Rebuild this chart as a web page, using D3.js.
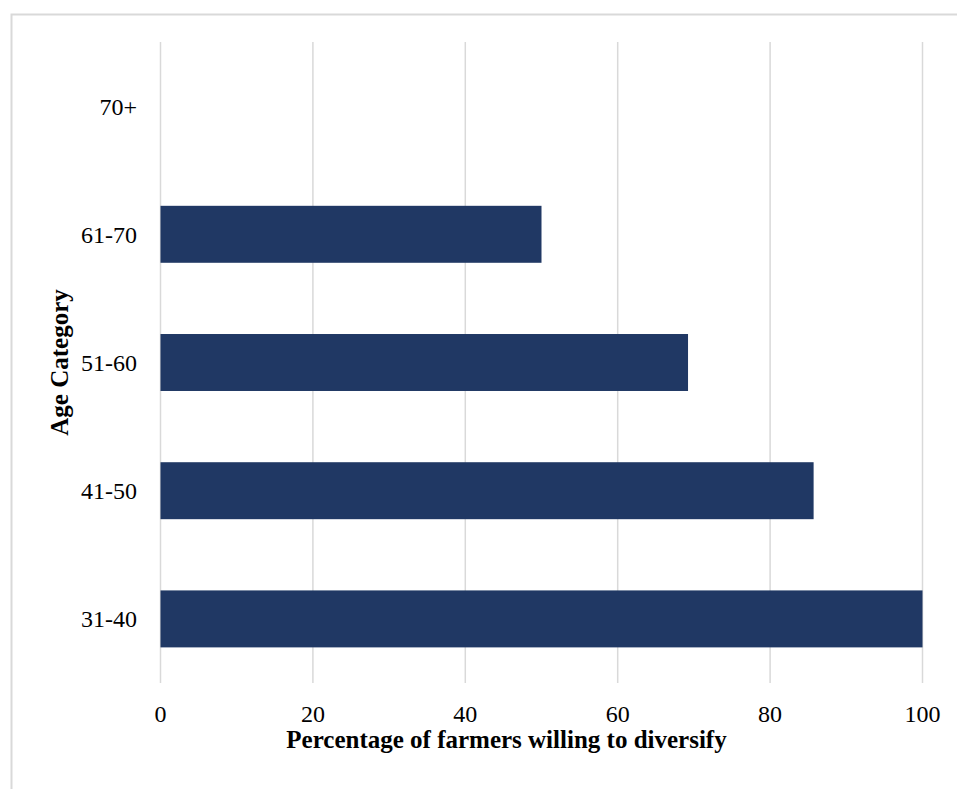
<!DOCTYPE html>
<html>
<head>
<meta charset="utf-8">
<script src="https://cdn.jsdelivr.net/npm/d3@7"></script>
<style>
  html, body { margin: 0; padding: 0; background: #ffffff; }
  svg { display: block; }
</style>
</head>
<body>
<svg id="chart" width="957" height="789"></svg>
<script>
const categories = ["31-40", "41-50", "51-60", "61-70", "70+"];
const values = [100, 85.71, 69.23, 50, 0];
const xTicks = [0, 20, 40, 60, 80, 100];
const xTitle = "Percentage of farmers willing to diversify";
const yTitle = "Age Category";

const svg = d3.select("#chart");
const font = "'Liberation Serif', 'Times New Roman', serif";

// outer frame
svg.append("rect")
  .attr("x", 11.5).attr("y", 14.5)
  .attr("width", 1000).attr("height", 1000)
  .attr("fill", "none").attr("stroke", "#d9d9d9").attr("stroke-width", 2);

const plot = { left: 160.5, right: 922.5, top: 42, bottom: 683 };

const x = d3.scaleLinear().domain([0, 100]).range([plot.left, plot.right]);
const y = d3.scaleBand().domain(categories.slice().reverse())
  .range([plot.top, plot.bottom]).paddingInner(0.5556).paddingOuter(0.2778);

// gridlines
svg.append("g").selectAll("line").data(xTicks).join("line")
  .attr("x1", d => x(d)).attr("x2", d => x(d))
  .attr("y1", plot.top).attr("y2", plot.bottom)
  .attr("stroke", "#d9d9d9").attr("stroke-width", 1.5);

// bars
svg.append("g").selectAll("rect").data(categories.map((c, i) => ({c, v: values[i]}))).join("rect")
  .attr("x", x(0))
  .attr("y", d => y(d.c))
  .attr("width", d => x(d.v) - x(0))
  .attr("height", y.bandwidth())
  .attr("fill", "#203864");

// x tick labels
svg.append("g").selectAll("text").data(xTicks).join("text")
  .attr("x", d => x(d)).attr("y", 722)
  .attr("text-anchor", "middle")
  .attr("font-family", font).attr("font-size", 24).attr("fill", "#000")
  .text(d => d);

// y tick labels
svg.append("g").selectAll("text").data(categories).join("text")
  .attr("x", 137).attr("y", d => y(d) + y.bandwidth() / 2)
  .attr("dy", "0.35em")
  .attr("text-anchor", "end")
  .attr("font-family", font).attr("font-size", 24).attr("fill", "#000")
  .text(d => d);

// axis titles
svg.append("text")
  .attr("x", (plot.left + plot.right) / 2 - 35).attr("y", 748)
  .attr("text-anchor", "middle")
  .attr("font-family", font).attr("font-size", 25).attr("font-weight", "bold")
  .text(xTitle);

svg.append("text")
  .attr("transform", `translate(68, ${(plot.top + plot.bottom) / 2}) rotate(-90)`)
  .attr("text-anchor", "middle")
  .attr("font-family", font).attr("font-size", 25).attr("font-weight", "bold")
  .text(yTitle);
</script>
</body>
</html>
